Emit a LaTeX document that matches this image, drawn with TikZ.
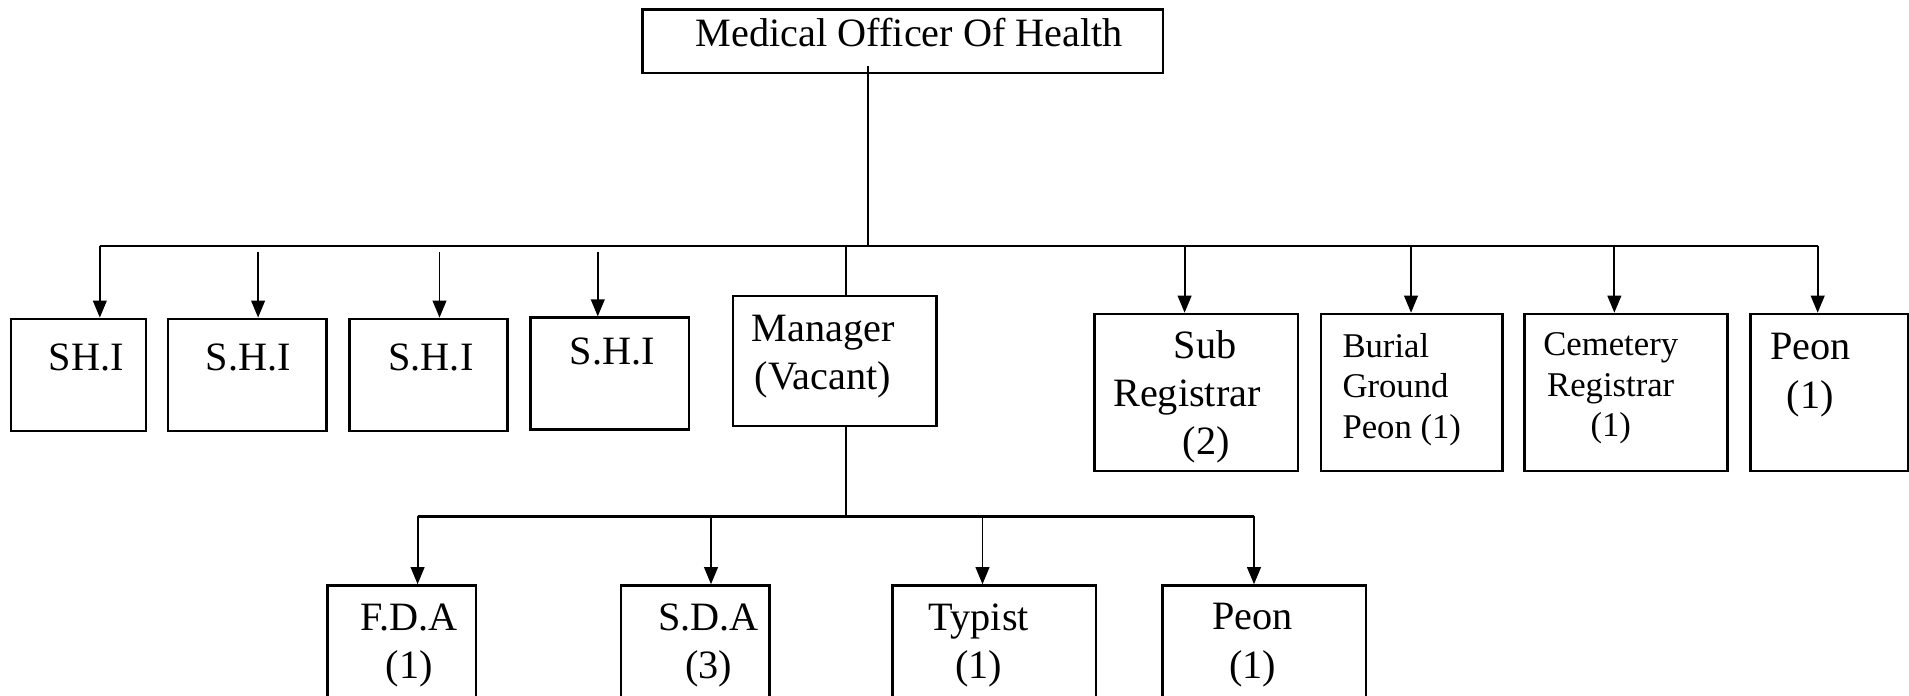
\documentclass[tikz,border=0pt]{standalone}
\usepackage{fontspec}
\setmainfont{Liberation Serif}
\usetikzlibrary{arrows.meta}

\begin{document}
\begin{tikzpicture}[x=0.01cm,y=-0.01cm,>={Triangle[length=4pt,width=3.2pt]},
  box/.style={draw,line width=0.6pt,inner sep=0pt},
  txt/.style={inner sep=0pt,align=center,font=\fontsize{9.4}{11.3}\selectfont},
  small/.style={inner sep=0pt,font=\fontsize{8.1}{9.5}\selectfont},
  link/.style={line width=0.45pt},
  bus/.style={line width=0.65pt},
  arr/.style={link,->}]
  \clip (0,0) rectangle (1568,571);
  % head
  \node[box,minimum width=4.27cm,minimum height=0.52cm] (moh) at (741.5,34) {};
  \node[txt] (moht) at (747,26.5) {Medical Officer Of Health};
  % first row
  \node[box,minimum width=1.11cm,minimum height=0.92cm] (shi1) at (64.5,308) {};
  \node[txt] (shi1t) at (71,294) {SH.I};
  \node[box,minimum width=1.30cm,minimum height=0.92cm] (shi2) at (203,308) {};
  \node[txt] (shi2t) at (204,294) {S.H.I};
  \node[box,minimum width=1.30cm,minimum height=0.92cm] (shi3) at (352,308) {};
  \node[txt] (shi3t) at (354,294) {S.H.I};
  \node[box,minimum width=1.30cm,minimum height=0.92cm] (shi4) at (501,307) {};
  \node[txt] (shi4t) at (503,289) {S.H.I};
  \node[box,minimum width=1.67cm,minimum height=1.07cm] (mgr) at (685.5,296.5) {};
  \node[txt] (mgrt) at (676,293) {Manager\\(Vacant)};
  \node[box,minimum width=1.67cm,minimum height=1.29cm] (subreg) at (982.5,322.5) {};
  \node[txt] (subregt) at (975,326) {\hspace*{8.5pt}Sub\\Registrar\\\hspace*{9pt}(2)};
  \node[box,minimum width=1.49cm,minimum height=1.29cm] (burial) at (1159.5,322.5) {};
  \node[small,align=left,anchor=west] (burialt) at (1102,320) {Burial\\Ground\\Peon (1)};
  \node[box,minimum width=1.67cm,minimum height=1.29cm] (cemreg) at (1335.5,322.5) {};
  \node[small,align=center] (cemregt) at (1323,319) {Cemetery\\Registrar\\(1)};
  \node[box,minimum width=1.29cm,minimum height=1.29cm] (peon1) at (1502.5,322.5) {};
  \node[txt] (peon1t) at (1487,308) {Peon\\(1)};
  % second row
  \node[box,minimum width=1.22cm,minimum height=1.20cm] (fda) at (330,541) {};
  \node[txt] (fdat) at (336,530) {F.D.A\\(1)};
  \node[box,minimum width=1.22cm,minimum height=1.20cm] (sda) at (571,541) {};
  \node[txt] (sdat) at (582,530) {S.D.A\\(3)};
  \node[box,minimum width=1.67cm,minimum height=1.20cm] (typist) at (816.5,541) {};
  \node[txt] (typistt) at (804,530) {Typist\\(1)};
  \node[box,minimum width=1.67cm,minimum height=1.20cm] (peon2) at (1038.5,541) {};
  \node[txt] (peon2t) at (1029,530) {Peon\\(1)};
  % upper links
  \coordinate (hub) at (713,202);
  \coordinate (bl) at (82,202);
  \coordinate (br) at (1493,202);
  \coordinate (t2) at (212,207);
  \coordinate (t3) at (361,207);
  \coordinate (t4) at (491,207);
  \coordinate (tm) at (695,202);
  \coordinate (t5) at (973,202);
  \coordinate (t6) at (1159,202);
  \coordinate (t7) at (1326,202);
  \draw[link] ([yshift=2pt]moh.south -| hub) -- (hub);
  \draw[bus] (bl) -- (br);
  \draw[arr] (bl) -- (bl |- shi1.north);
  \draw[arr] (t2) -- (t2 |- shi2.north);
  \draw[arr] (t3) -- (t3 |- shi3.north);
  \draw[arr] (t4) -- (t4 |- shi4.north);
  \draw[link] (tm) -- (tm |- mgr.north);
  \draw[arr] (t5) -- (t5 |- subreg.north);
  \draw[arr] (t6) -- (t6 |- burial.north);
  \draw[arr] (t7) -- (t7 |- cemreg.north);
  \draw[arr] (br) -- (br |- peon1.north);
  % lower links
  \coordinate (hub2) at (695,424);
  \coordinate (bl2) at (343,424);
  \coordinate (br2) at (1030,424);
  \coordinate (t9) at (584,424);
  \coordinate (t10) at (807,424);
  \draw[link] (mgr.south -| hub2) -- (hub2);
  \draw[bus] (bl2) -- (br2);
  \draw[arr] (bl2) -- (bl2 |- fda.north);
  \draw[arr] (t9) -- (t9 |- sda.north);
  \draw[arr] (t10) -- (t10 |- typist.north);
  \draw[arr] (br2) -- (br2 |- peon2.north);
\end{tikzpicture}
\end{document}
